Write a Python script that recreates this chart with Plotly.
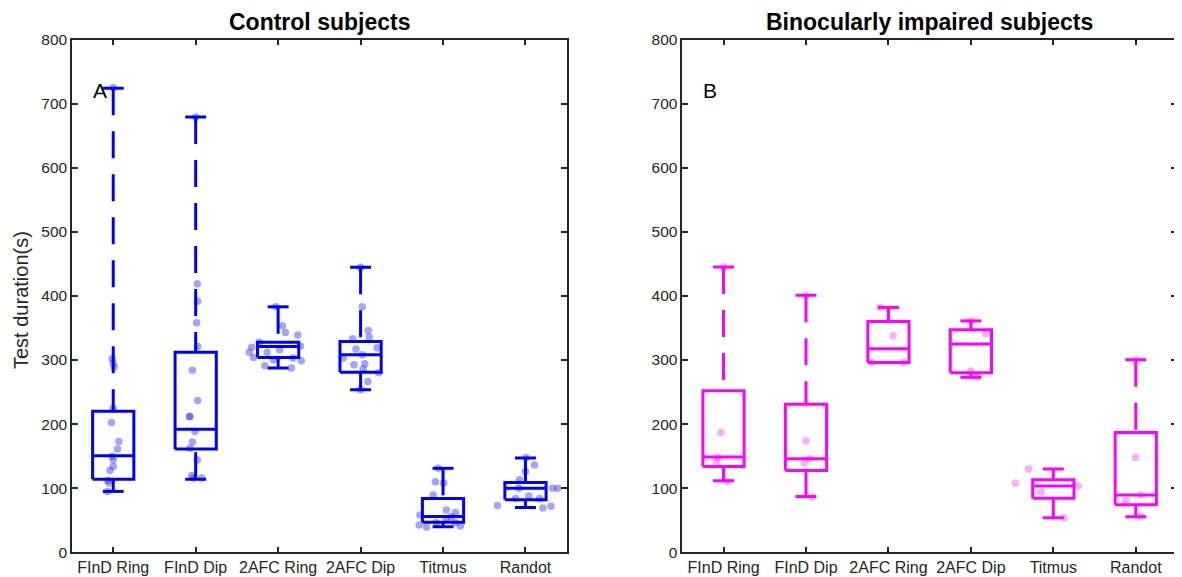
import plotly.graph_objects as go

categories = ["FInD Ring", "FInD Dip", "2AFC Ring", "2AFC Dip", "Titmus", "Randot"]
y_ticks = [0, 100, 200, 300, 400, 500, 600, 700, 800]

# Control subjects: box statistics (s)
ctrl_lower = [95, 114, 287.5, 253.6, 40, 70]
ctrl_q1 = [114, 161, 304, 281, 47, 82]
ctrl_median = [150.5, 192, 321, 308, 56, 100]
ctrl_q3 = [220, 312, 327.5, 329, 84, 109]
ctrl_upper = [724, 679, 383, 444.7, 131, 147]

# Binocularly impaired subjects: box statistics (s)
imp_lower = [111.5, 87, 296, 273, 54, 55.6]
imp_q1 = [134, 127.5, 296, 280, 84.4, 74]
imp_median = [148.5, 146, 317.6, 325, 103.6, 89.5]
imp_q3 = [252, 231, 360, 347, 113, 187]
imp_upper = [445, 401, 382, 361, 130, 300.5]

# Individual test durations (s), per category
ctrl_pts = [
    [725, 302, 295, 289, 225, 202.5, 173, 161, 150, 144, 134, 127.5, 112, 108, 95],
    [679, 419, 391.5, 358, 321, 284, 237, 212, 212, 188.5, 172, 162.5, 144, 120, 116, 116],
    [383, 353.5, 343, 339, 327.5, 320, 312, 304, 312, 300.5, 316, 303, 322, 299, 291, 287.5],
    [444.7, 383, 346, 336, 333, 319, 317, 308, 303, 294, 292.5, 286, 280, 266.5, 253.6],
    [131, 110, 108, 89.5, 66, 62, 58, 55.6, 46, 46, 42.7, 39, 41, 52],
    [148, 136, 126, 113, 100, 100, 100, 88, 84, 84, 73, 69, 72],
]
imp_pts = [
    [445, 187, 148, 141.5, 110],
    [401, 174, 146, 140, 86],
    [382, 338, 296, 296],
    [361, 341, 283, 273],
    [130, 108, 103.6, 94, 54],
    [300, 148, 89.5, 80, 56],
]
# horizontal jitter of the individual points (category units)
ctrl_jit = [
    [0, -0.012, 0, 0.012, 0, -0.02, 0.069, 0.052, -0.012, 0, 0, -0.04, -0.069, -0.052, -0.069],
    [0, 0.02, 0.024, 0.012, 0.024, -0.04, 0.024, -0.077, -0.069, -0.008, -0.04, -0.069, 0.02, -0.048, -0.028, 0.073],
    [-0.028, 0.052, 0.089, 0.238, -0.23, -0.32, -0.35, -0.30, -0.133, -0.06, 0.02, 0.18, 0.27, 0.28, -0.16, 0.16],
    [0, 0.02, 0.093, 0.105, -0.097, 0.2, -0.056, 0.02, -0.21, 0.052, -0.08, 0.032, 0.22, 0.089, 0],
    [-0.06, -0.093, 0.008, -0.12, 0.04, 0.15, -0.28, 0.1, -0.08, 0.15, -0.29, -0.2, 0.21, 0.04],
    [0.008, 0.11, 0, -0.073, -0.08, 0.33, 0.39, 0.04, -0.12, 0.17, -0.34, 0.21, 0.31],
]
imp_jit = [
    [0, -0.032, -0.065, -0.085, 0.048],
    [0, 0, 0.04, -0.02, 0.073],
    [-0.1, 0.056, -0.2, 0.18],
    [0, 0.18, 0, 0.08],
    [-0.3, -0.46, 0.3, -0.15, 0.13],
    [0, 0, 0.06, -0.12, 0.06],
]

FONT = "Liberation Sans, Arial, Helvetica, sans-serif"
AX = "#262626"
OFF = 8  # the page body adds an 8 px margin around the figure
W, H = 1182 - OFF, 577 - OFF

fig = go.Figure()


def add_panel(lower, q1, med, q3, upper, pts, jit, color, dot_color, xa, ya):
    hw, cw, lw = 0.25, 0.127, 3
    for i in range(len(categories)):
        # points
        fig.add_trace(go.Scatter(
            x=[i + d for d in jit[i]], y=pts[i], mode="markers", xaxis=xa, yaxis=ya,
            marker=dict(size=7.5, color=dot_color, line=dict(width=0)),
            hoverinfo="y", showlegend=False))
        # whiskers (dashed, drawn from cap towards the box)
        for a, b in ((upper[i], q3[i]), (lower[i], q1[i])):
            fig.add_trace(go.Scatter(
                x=[i, i], y=[a, b], mode="lines", xaxis=xa, yaxis=ya,
                line=dict(color=color, width=lw, dash="27px,16px"),
                hoverinfo="skip", showlegend=False))
        # caps
        fig.add_trace(go.Scatter(
            x=[i - cw, i + cw, None, i - cw, i + cw],
            y=[upper[i], upper[i], None, lower[i], lower[i]],
            mode="lines", xaxis=xa, yaxis=ya, line=dict(color=color, width=lw),
            hoverinfo="skip", showlegend=False))
        # box + median
        fig.add_trace(go.Scatter(
            x=[i - hw, i + hw, i + hw, i - hw, i - hw, None, i - hw, i + hw],
            y=[q1[i], q1[i], q3[i], q3[i], q1[i], None, med[i], med[i]],
            mode="lines", xaxis=xa, yaxis=ya, line=dict(color=color, width=lw),
            hoverinfo="skip", showlegend=False))


add_panel(ctrl_lower, ctrl_q1, ctrl_median, ctrl_q3, ctrl_upper, ctrl_pts, ctrl_jit,
          "#0000FF", "rgba(40,40,235,0.42)", "x", "y")
add_panel(imp_lower, imp_q1, imp_median, imp_q3, imp_upper, imp_pts, imp_jit,
          "#FF00FF", "rgba(245,60,245,0.42)", "x2", "y2")


def px_x(s):
    return (s - OFF) / W


def px_y(s):
    return 1 - (s - OFF) / H


ydom = [px_y(552.3), px_y(39.5)]
xdom1 = [px_x(72), px_x(566.7)]
xdom2 = [px_x(682.3), px_x(1177)]

xcommon = dict(range=[-0.5, 5.5], tickmode="array", tickvals=list(range(6)), ticktext=categories,
               showline=True, linecolor=AX, linewidth=1.5, mirror="ticks", ticks="inside",
               ticklen=6, tickwidth=1.5, tickcolor=AX, showgrid=False, zeroline=False,
               automargin=False,
               tickfont=dict(family=FONT, size=16, color=AX), fixedrange=True)
ycommon = dict(range=[0, 800], tickmode="array", tickvals=y_ticks, ticktext=[str(v) for v in y_ticks],
               showline=True, linecolor=AX, linewidth=1.5, mirror="ticks", ticks="inside",
               ticklen=6, tickwidth=1.5, tickcolor=AX, showgrid=False, zeroline=False,
               automargin=False,
               tickfont=dict(family=FONT, size=15.5, color=AX), fixedrange=True)

fig.update_layout(
    width=W, height=H,
    margin=dict(l=0, r=0, t=0, b=0, autoexpand=False),
    paper_bgcolor="white", plot_bgcolor="white",
    xaxis=dict(domain=xdom1, anchor="y", **xcommon),
    yaxis=dict(domain=ydom, anchor="x", **ycommon),
    xaxis2=dict(domain=xdom2, anchor="y2", **xcommon),
    yaxis2=dict(domain=ydom, anchor="x2", **ycommon),
    showlegend=False,
    annotations=[
        dict(text="<b>Control subjects</b>", x=(xdom1[0] + xdom1[1]) / 2, y=px_y(22.5),
             xref="paper", yref="paper", showarrow=False, xanchor="center", yanchor="middle",
             font=dict(family=FONT, size=23, color="black")),
        dict(text="<b>Binocularly impaired subjects</b>", x=(xdom2[0] + xdom2[1]) / 2, y=px_y(22.5),
             xref="paper", yref="paper", showarrow=False, xanchor="center", yanchor="middle",
             font=dict(family=FONT, size=23, color="black")),
        dict(text="Test duration(s)", x=px_x(21), y=px_y(300), xref="paper", yref="paper",
             showarrow=False, textangle=-90, xanchor="center", yanchor="middle",
             font=dict(family=FONT, size=20, color=AX)),
        dict(text="A", x=-0.16, y=721, xref="x", yref="y", showarrow=False,
             xanchor="center", yanchor="middle", font=dict(family=FONT, size=21, color="black")),
        dict(text="B", x=-0.16, y=721, xref="x2", yref="y2", showarrow=False,
             xanchor="center", yanchor="middle", font=dict(family=FONT, size=21, color="black")),
    ],
)

fig.write_html("out.html")
